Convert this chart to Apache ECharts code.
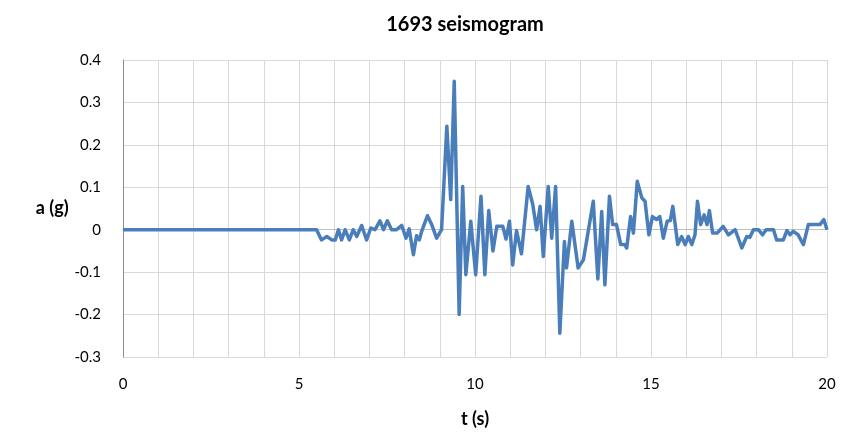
<!DOCTYPE html>
<html><head><meta charset="utf-8">
<script src="https://cdn.jsdelivr.net/npm/echarts@6/dist/echarts.min.js"></script>
<style>html,body{margin:0;padding:0;background:#fff}#c{width:842px;height:435px}</style>
</head><body><div id="c"></div>
<script>
var title = '1693 seismogram';
var xName = 't (s)';
var yName = 'a (g)';
var times = [0,5.50,5.64,5.79,5.93,6.03,6.12,6.21,6.31,6.43,6.54,6.64,6.78,6.92,7.04,7.16,7.30,7.40,7.51,7.63,7.77,7.92,8.04,8.13,8.25,8.34,8.42,8.48,8.65,8.77,8.91,9.05,9.20,9.31,9.41,9.55,9.65,9.74,9.88,10.02,10.17,10.28,10.39,10.51,10.62,10.79,10.88,10.98,11.07,11.18,11.32,11.51,11.64,11.75,11.85,11.94,12.08,12.18,12.29,12.41,12.54,12.60,12.75,12.93,13.08,13.36,13.49,13.60,13.69,13.82,13.91,14.02,14.14,14.25,14.31,14.42,14.50,14.61,14.74,14.83,14.94,15.04,15.16,15.25,15.35,15.46,15.55,15.62,15.76,15.87,15.97,16.06,16.16,16.25,16.32,16.41,16.51,16.59,16.66,16.75,16.88,17.05,17.20,17.39,17.58,17.72,17.81,17.91,18.05,18.17,18.27,18.48,18.57,18.76,18.86,18.95,19.04,19.18,19.33,19.47,19.80,19.91,20.0];
var accel = [0,0,-0.024,-0.016,-0.024,-0.024,0,-0.024,0,-0.024,0,-0.016,0.01,-0.024,0.004,0,0.021,0,0.021,0,0,0.01,-0.02,0.002,-0.059,-0.014,-0.024,-0.005,0.033,0.012,-0.02,0,0.244,0.071,0.35,-0.20,0.102,-0.106,0.02,-0.106,0.079,-0.106,0.045,-0.05,0.008,0.008,-0.022,0.02,-0.083,-0.002,-0.057,0.102,0.06,0,0.055,-0.063,0.102,-0.02,0.102,-0.244,-0.028,-0.09,0.02,-0.09,-0.071,0.067,-0.116,0.043,-0.13,0.079,0.012,0.012,-0.035,-0.035,-0.043,0.031,-0.008,0.114,0.075,0.067,-0.012,0.031,0.024,0.031,-0.02,0.02,0.022,0.055,-0.035,-0.016,-0.035,-0.016,-0.035,-0.012,0.067,0.012,0.035,0.012,0.045,-0.008,-0.008,0.008,-0.012,0,-0.043,-0.016,-0.018,0,0,-0.012,0,0,-0.024,-0.024,-0.002,-0.012,-0.004,-0.012,-0.035,0.012,0.012,0.024,0];
var xMin = 0, xMax = 20, xStep = 1, xLabelStep = 5;
var yMin = -0.3, yMax = 0.4, yStep = 0.1;

var pts = times.map(function(t, i){ return [t, accel[i]]; });
var font = 'Lato, "Open Sans", sans-serif';
var chart = echarts.init(document.getElementById('c'), null, {renderer:'canvas'});
chart.setOption({
  animation: false,
  backgroundColor: '#fff',
  title: { text: title, left: 460, top: 10, textAlign: 'center',
    textStyle: { fontFamily: font, fontWeight: 'bold', fontSize: 20, color: '#000' } },
  grid: { left: 123, right: 15, top: 60, bottom: 78 },
  xAxis: {
    type: 'value', min: xMin, max: xMax, interval: xStep,
    name: xName, nameLocation: 'middle', nameGap: 53,
    nameTextStyle: { fontFamily: font, fontWeight: 'bold', fontSize: 18, color: '#000' },
    axisLine: { show: true, lineStyle: { color: '#bfbfbf', width: 1 } },
    axisTick: { show: false },
    axisLabel: { fontFamily: font, fontSize: 15, color: '#000', margin: 20,
      formatter: function(v){ return (Math.round(v) % xLabelStep === 0) ? String(Math.round(v)) : ''; } },
    splitLine: { show: true, lineStyle: { color: '#d9d9d9', width: 1 } }
  },
  yAxis: {
    type: 'value', min: yMin, max: yMax, interval: yStep,
    name: yName, nameLocation: 'middle', nameGap: 48, nameRotate: 0,
    nameTextStyle: { fontFamily: font, fontWeight: 'bold', fontSize: 18, color: '#000', padding: [14, 0, 0, 0] },
    axisLine: { show: true, lineStyle: { color: '#8c8c8c', width: 1 } },
    axisTick: { show: false },
    axisLabel: { fontFamily: font, fontSize: 15, color: '#000', margin: 22,
      formatter: function(v){ var r = Math.round(v*10)/10; return r === 0 ? '0' : r.toFixed(1); } },
    splitLine: { show: true, lineStyle: { color: '#d9d9d9', width: 1 } }
  },
  series: [{
    type: 'line', data: pts, showSymbol: false, symbol: 'none',
    lineStyle: { color: '#4a7ebb', width: 3.5, join: 'round' }
  }]
});
</script></body></html>
